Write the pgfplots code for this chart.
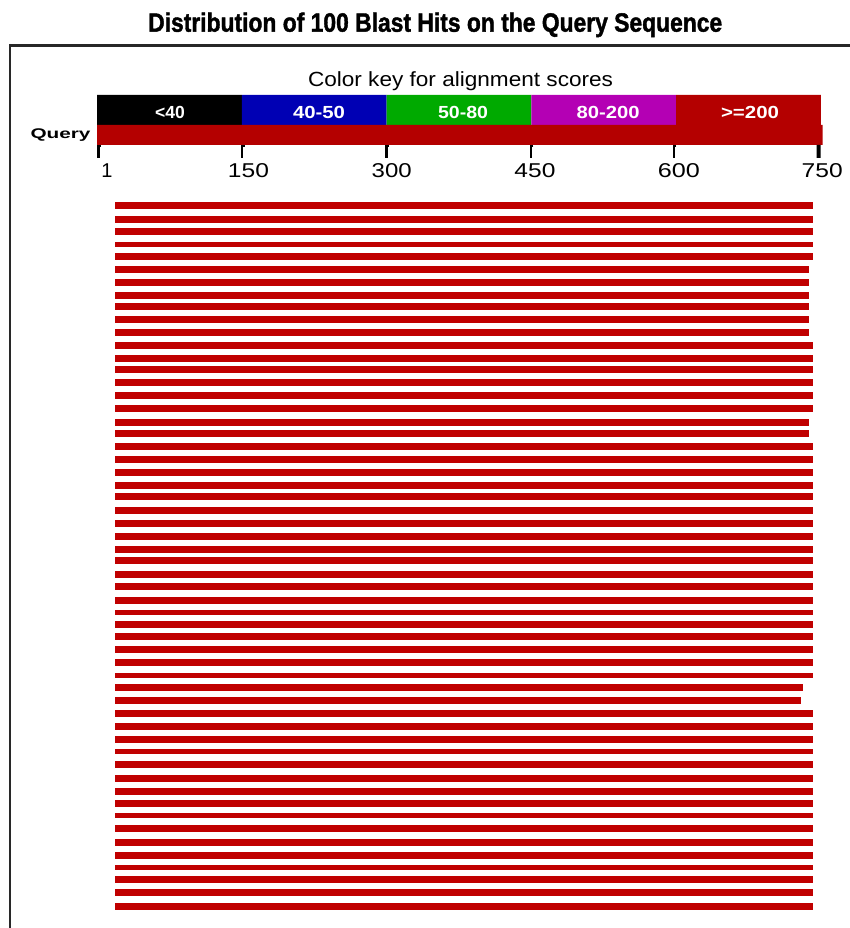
\documentclass[border=0pt]{standalone}
\usepackage{pgfplots}
\pgfplotsset{compat=1.18}
\usepackage{pgfplotstable}
\usepackage{graphicx}
\usepackage{fontspec}
\setmainfont{Liberation Sans}
\newfontfamily\titlefont[BoldFeatures={FakeBold=1.6}]{Liberation Sans}
\definecolor{keyblack}{RGB}{0,0,0}
\definecolor{keyblue}{RGB}{0,0,180}
\definecolor{keygreen}{RGB}{0,170,0}
\definecolor{keymag}{RGB}{180,0,180}
\definecolor{keyred}{RGB}{180,0,0}
\definecolor{hitred}{RGB}{192,0,0}
\definecolor{framecol}{RGB}{40,40,40}

% hits drawn with normal thickness: start, end (query positions), y (row position)
\pgfplotstableread{
start end y
19 742 205.7
19 742 219.0
19 742 231.7
19 742 256.0
19 738 269.3
19 738 282.7
19 738 295.7
19 738 306.7
19 738 319.3
19 738 332.0
19 742 345.3
19 742 358.3
19 742 369.3
19 742 382.7
19 742 395.7
19 742 408.7
19 738 422.3
19 738 433.0
19 742 446.3
19 742 459.7
19 742 472.7
19 742 485.7
19 742 496.7
19 742 510.0
19 742 523.0
19 742 536.0
19 742 549.0
19 742 560.7
19 742 574.0
19 742 586.7
19 742 600.0
19 742 624.0
19 742 636.7
19 742 649.3
19 742 662.7
19 731 687.0
19 729 700.3
19 742 713.3
19 742 726.7
19 742 739.0
19 742 764.3
19 742 778.0
19 742 791.0
19 742 803.3
19 742 828.7
19 742 842.0
19 742 855.0
19 742 879.7
19 742 892.7
19 742 906.0
}\hitsnormal
% hits drawn thinner
\pgfplotstableread{
start end y
19 742 244.3
19 742 612.0
19 742 675.0
19 742 751.3
19 742 815.7
19 742 867.3
}\hitsthin

\begin{document}
\begin{tikzpicture}
\begin{axis}[
  scale only axis,
  width=850bp, height=928bp,
  xmin=-100.49, xmax=780.07,
  ymin=0, ymax=928,
  y dir=reverse,
  hide axis,
  clip=false,
]
% frame
\draw[line width=3bp, framecol] (axis cs:-90.13,45.5) -- (axis cs:780.07,45.5);
\draw[line width=2bp, framecol] (axis cs:-90.13,44) -- (axis cs:-90.13,928);

% title
\node[anchor=base west, inner sep=0pt] at (axis cs:52.8,31.7)
  {\resizebox{574bp}{\height}{\fontsize{26.5bp}{30bp}\selectfont\titlefont\bfseries Distribution of 100 Blast Hits on the Query Sequence}};

% colour key
\node[anchor=base, inner sep=0pt] at (axis cs:376.6,86.7)
  {\resizebox{305bp}{\height}{\fontsize{20.5bp}{24bp}\selectfont Color key for alignment scores}};
\addplot[draw=none, fill=keyblack] coordinates {(0,95) (150,95) (150,125) (0,125) (0,95)};
\addplot[draw=none, fill=keyblue]  coordinates {(150,95) (300,95) (300,125) (150,125) (150,95)};
\addplot[draw=none, fill=keygreen] coordinates {(300,95) (450,95) (450,125) (300,125) (300,95)};
\addplot[draw=none, fill=keymag]   coordinates {(450,95) (600,95) (600,125) (450,125) (450,95)};
\addplot[draw=none, fill=keyred]   coordinates {(600,95) (750,95) (750,125) (600,125) (600,95)};
\node[anchor=base, inner sep=0pt, text=white, font=\fontsize{17.5bp}{20bp}\selectfont\bfseries] at (axis cs:75.6,118.3) {<40};
\node[anchor=base, inner sep=0pt, text=white, font=\fontsize{17.5bp}{20bp}\selectfont\bfseries] at (axis cs:230.0,118.3) {\resizebox{52bp}{\height}{40-50}};
\node[anchor=base, inner sep=0pt, text=white, font=\fontsize{17.5bp}{20bp}\selectfont\bfseries] at (axis cs:379.2,118.3) {\resizebox{50bp}{\height}{50-80}};
\node[anchor=base, inner sep=0pt, text=white, font=\fontsize{17.5bp}{20bp}\selectfont\bfseries] at (axis cs:529.4,118.3) {\resizebox{63bp}{\height}{80-200}};
\node[anchor=base, inner sep=0pt, text=white, font=\fontsize{17.5bp}{20bp}\selectfont\bfseries] at (axis cs:676.5,118.3) {\resizebox{58bp}{\height}{>=200}};

% query bar
\addplot[draw=none, fill=keyred] coordinates {(0,125) (751.8,125) (751.8,145) (0,145) (0,125)};
\node[anchor=base east, inner sep=0pt] at (axis cs:-6.5,138.5)
  {\resizebox{60bp}{\height}{\fontsize{14bp}{16bp}\selectfont\bfseries Query}};

% scale ticks
\draw[line width=2.2bp, black] (axis cs:4.1,146.2) -- (axis cs:1.5,146.2) -- (axis cs:1.5,158);
\draw[line width=2.2bp, black] (axis cs:153.1,146.2) -- (axis cs:150.5,146.2) -- (axis cs:150.5,158);
\draw[line width=2.2bp, black] (axis cs:302.6,146.2) -- (axis cs:300,146.2) -- (axis cs:300,158);
\draw[line width=2.2bp, black] (axis cs:452.1,146.2) -- (axis cs:449.5,146.2) -- (axis cs:449.5,158);
\draw[line width=2.2bp, black] (axis cs:600.1,146.2) -- (axis cs:597.5,146.2) -- (axis cs:597.5,158);
\addplot[draw=none, fill=black] coordinates {(745.6,145) (749.7,145) (749.7,158) (745.6,158) (745.6,145)};
\node[anchor=base, inner sep=0pt, font=\fontsize{20bp}{24bp}\selectfont] at (axis cs:10.4,177.3) {1};
\node[anchor=base, inner sep=0pt, font=\fontsize{20bp}{24bp}\selectfont] at (axis cs:156.9,177.3) {\resizebox{41bp}{\height}{150}};
\node[anchor=base, inner sep=0pt, font=\fontsize{20bp}{24bp}\selectfont] at (axis cs:305.3,177.3) {\resizebox{40bp}{\height}{300}};
\node[anchor=base, inner sep=0pt, font=\fontsize{20bp}{24bp}\selectfont] at (axis cs:453.7,177.3) {\resizebox{41bp}{\height}{450}};
\node[anchor=base, inner sep=0pt, font=\fontsize{20bp}{24bp}\selectfont] at (axis cs:602.9,177.3) {\resizebox{42bp}{\height}{600}};
\node[anchor=base, inner sep=0pt, font=\fontsize{20bp}{24bp}\selectfont] at (axis cs:751.3,177.3) {\resizebox{41bp}{\height}{750}};

% hits
\addplot[hitred, line width=7bp, line cap=butt,
  quiver={u=\thisrow{end}-\thisrow{start}, v=0}]
  table[x=start, y=y] {\hitsnormal};
\addplot[hitred, line width=5bp, line cap=butt,
  quiver={u=\thisrow{end}-\thisrow{start}, v=0}]
  table[x=start, y=y] {\hitsthin};
\end{axis}
\pgfresetboundingbox
\useasboundingbox (current axis.south west) rectangle (current axis.north east);
\end{tikzpicture}
\end{document}
